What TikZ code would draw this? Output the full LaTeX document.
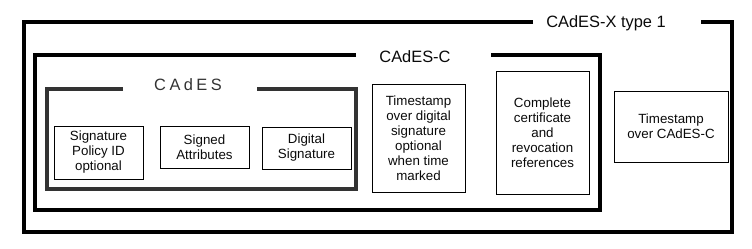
\documentclass[tikz,border=0pt]{standalone}
\usepackage{fontspec}
\setmainfont{Liberation Sans}
\usepackage{xcolor}
\usepackage{tikz}
\usetikzlibrary{positioning, calc}
\definecolor{framegray}{RGB}{51, 51, 51}
\definecolor{textblack}{RGB}{10, 10, 10}

\tikzset{
    frame/.style={line width=3pt, line join=miter},
    frametitle/.style={anchor=base, inner sep=0pt, text=textblack, font=\fontsize{12.3pt}{14pt}\selectfont},
    itembox/.style={draw, line width=0.75pt, align=center, inner sep=0pt, text=textblack, font=\fontsize{10pt}{11.25pt}\selectfont}
}

\begin{document}
\begin{tikzpicture}[x=0.75pt, y=-0.75pt]
    % Page
    \useasboundingbox (0,0) rectangle (752,248);

    % CAdES-X type 1 frame
    \node[frametitle] (xtitle) at (606,27) {CAdES-X type 1};
    \draw[frame] (533,22) -- (24,22) -- (24,232) -- (732,232) -- (732,22) -- (701,22);

    % CAdES-C frame
    \node[frametitle] (ctitle) at (415,62) {CAdES-C};
    \draw[frame] (356,55) -- (35,55) -- (35,210) -- (600,210) -- (600,55) -- (491,55);

    % CAdES frame
    \node[frametitle, text=framegray] (btitle) at (188,90) {\addfontfeature{LetterSpace=21}CAdES};
    \draw[frame, framegray] (123,89) -- (47,89) -- (47,189) -- (356,189) -- (356,89) -- (257,89);

    % Contents of CAdES
    \node[itembox, minimum width=66.75pt, minimum height=39.75pt] (sigpolicy) at (98.5,152.5) {Signature\\Policy ID\\optional};
    \node[itembox, minimum width=66.75pt, minimum height=31.5pt] (signedattr) at (204.5,147) {Signed\\Attributes};
    \node[itembox, minimum width=66.75pt, minimum height=31.5pt] (digsig) at (306.5,148) {Digital\\Signature};

    % Contents of CAdES-C
    \node[itembox, minimum width=69.75pt, minimum height=81pt] (tsdigsig) at (418.5,138) {Timestamp\\over digital\\signature\\optional\\when time\\marked};
    \node[itembox, minimum width=69.75pt, minimum height=92.25pt] (certrefs) at (542.5,132.5) {Complete\\certificate\\and\\revocation\\references};

    % Contents of CAdES-X type 1
    \node[itembox, minimum width=85.5pt, minimum height=53.25pt] (tscadesc) at (671,126.5) {Timestamp\\over CAdES-C};
\end{tikzpicture}
\end{document}
